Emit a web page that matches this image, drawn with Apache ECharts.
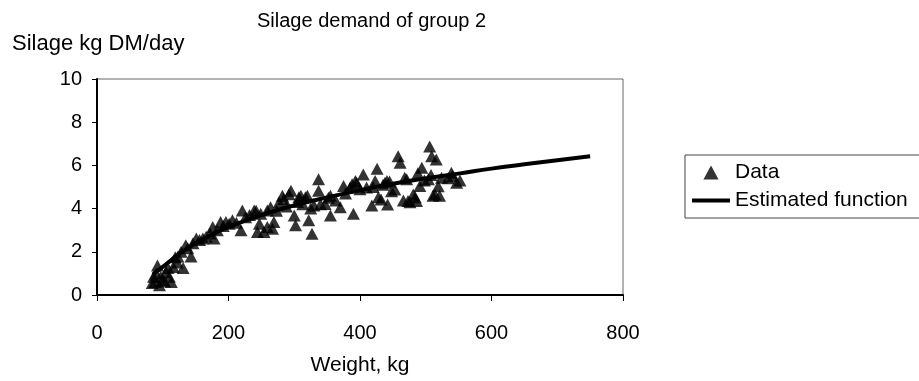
<!DOCTYPE html>
<html>
<head>
<meta charset="utf-8">
<script src="https://cdn.jsdelivr.net/npm/echarts@6/dist/echarts.min.js"></script>
<style>
  html, body { margin: 0; padding: 0; background: #fff; }
  #chart { width: 919px; height: 381px; }
</style>
</head>
<body>
<div id="chart"></div>
<script>
// weight (kg) and silage demand (kg DM/day) of each animal
const weights = [
  84, 86, 88, 90, 92, 95, 97, 100, 103, 105, 108, 110, 113, 116, 119, 122,
  123, 128, 131, 135, 138, 143, 146, 151, 156, 161, 166, 172, 176, 178, 183, 188,
  192, 196, 201, 206, 212, 219, 221, 226, 232, 239, 242, 244, 247, 249, 254, 259,
  259, 264, 267, 269, 273, 277, 282, 284, 288, 292, 295, 300, 302, 305, 307, 310,
  313, 317, 320, 322, 325, 327, 330, 337, 337, 340, 347, 352, 355, 355, 363, 370,
  375, 378, 385, 388, 390, 393, 395, 400, 405, 410, 418, 420, 423, 426, 428, 432,
  435, 438, 441, 442, 445, 448, 453, 458, 461, 466, 468, 471, 473, 476, 481, 484,
  486, 488, 491, 494, 498, 504, 506, 508, 509, 511, 514, 516, 519, 521, 524, 534,
  539, 541, 547, 552
]
const silage = [
  0.55, 0.85, 0.6, 1.0, 1.36, 0.45, 0.85, 0.7, 0.62, 1.05, 1.25, 0.85, 0.6, 1.3, 1.75, 1.5,
  1.78, 2.0, 1.25, 2.3, 2.16, 1.78, 2.4, 2.62, 2.55, 2.62, 2.7, 2.85, 3.15, 2.62, 3.0, 3.38,
  3.2, 3.38, 3.3, 3.46, 3.35, 3.0, 3.91, 3.6, 3.7, 3.91, 3.9, 2.92, 3.3, 3.76, 2.92, 3.91,
  3.15, 4.06, 3.07, 3.38, 3.9, 4.29, 4.6, 4.44, 4.1, 4.67, 4.83, 3.68, 3.23, 4.3, 4.52, 4.6,
  4.2, 4.52, 4.6, 3.46, 4.0, 2.84, 4.14, 5.36, 4.83, 4.2, 4.21, 4.5, 3.68, 4.6, 4.37, 4.06,
  5.05, 4.7, 4.98, 5.13, 3.76, 5.28, 5.2, 4.9, 5.58, 4.98, 4.14, 5.0, 5.28, 5.85, 4.52, 4.42,
  5.1, 5.2, 5.28, 4.19, 5.26, 4.8, 4.88, 6.42, 6.12, 4.37, 5.43, 5.36, 4.35, 4.29, 4.65, 4.52,
  4.35, 5.64, 5.05, 5.89, 5.3, 5.36, 6.88, 5.56, 6.42, 4.6, 4.65, 6.27, 5.03, 4.6, 5.43, 5.41,
  5.66, 5.5, 5.2, 5.3
]

// estimated function
const fitWeights = [85, 100, 125, 150, 175, 200, 250, 300, 350, 400, 450, 500, 550, 600, 650, 700, 750]
const fitSilage = [0.95, 1.3, 1.9, 2.4, 2.8, 3.15, 3.7, 4.15, 4.52, 4.85, 5.15, 5.4, 5.62, 5.85, 6.05, 6.24, 6.42]

const xTicks = [0, 200, 400, 600, 800]
const yTicks = [0, 2, 4, 6, 8, 10]

const chart = echarts.init(document.getElementById("chart"))
const font = "Liberation Sans, Arial, sans-serif"

const option = {
  animation: false,
  backgroundColor: "#fff",
  textStyle: { fontFamily: font, color: "#000" },
  title: [
    {
      text: "Silage demand of group 2",
      left: 252,
      top: 6,
      textStyle: { fontFamily: font, fontSize: 20, fontWeight: "normal", color: "#000" },
    },
    {
      text: "Silage kg DM/day",
      left: 7,
      top: 28,
      textStyle: { fontFamily: font, fontSize: 22, fontWeight: "normal", color: "#000" },
    },
  ],
  legend: {
    orient: "vertical",
    left: 685,
    top: 155,
    padding: [7, 30, 7, 7],
    itemWidth: 38,
    itemHeight: 14,
    itemGap: 7,
    symbolKeepAspect: true,
    borderColor: "#444",
    borderWidth: 1,
    textStyle: { fontFamily: font, fontSize: 21, color: "#000", lineHeight: 21 },
    data: [
      { name: "Data", icon: "path://M6.5,0L13,12L0,12Z" },
      { name: "Estimated function", icon: "path://M0,0H38V4H0Z" },
    ],
  },
  grid: {
    left: 97,
    right: 296,
    top: 79,
    bottom: 83,
    show: true,
    borderColor: "#666",
    borderWidth: 1,
  },
  xAxis: {
    type: "value",
    min: xTicks[0],
    max: xTicks[xTicks.length - 1],
    interval: 200,
    name: "Weight, kg",
    nameLocation: "middle",
    nameGap: 60,
    nameTextStyle: { fontFamily: font, fontSize: 21, color: "#000" },
    axisLine: { lineStyle: { color: "#000", width: 2 } },
    axisTick: { show: true, length: 6, lineStyle: { color: "#000" } },
    axisLabel: { fontFamily: font, fontSize: 20, color: "#000", margin: 28 },
    splitLine: { show: false },
  },
  yAxis: {
    type: "value",
    min: yTicks[0],
    max: yTicks[yTicks.length - 1],
    interval: 2,
    axisLine: { show: true, lineStyle: { color: "#000", width: 2 } },
    axisTick: { show: true, length: 5, lineStyle: { color: "#000" } },
    axisLabel: { fontFamily: font, fontSize: 20, color: "#000", margin: 15 },
    splitLine: { show: false },
  },
  series: [
    {
      name: "Data",
      type: "scatter",
      symbol: "triangle",
      symbolSize: [13, 12],
      itemStyle: { color: "#000" },
      data: weights.map((w, i) => [w, silage[i]]),
      z: 3,
    },
    {
      name: "Estimated function",
      type: "line",
      smooth: true,
      symbol: "none",
      lineStyle: { color: "#000", width: 4 },
      itemStyle: { color: "#000" },
      data: fitWeights.map((w, i) => [w, fitSilage[i]]),
      z: 2,
    },
  ],
}

chart.setOption(option)
</script>
</body>
</html>
